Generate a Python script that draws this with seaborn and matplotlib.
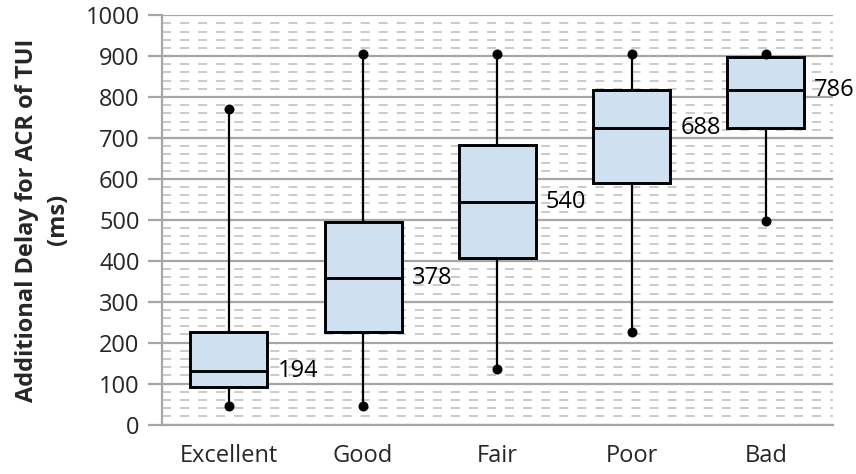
import matplotlib
matplotlib.use("Agg")
import matplotlib.pyplot as plt
from matplotlib.ticker import MultipleLocator
from matplotlib.transforms import offset_copy
import numpy as np
import pandas as pd
import seaborn as sns

# Delay distribution per rating category (ms)
categories = ["Excellent", "Good", "Fair", "Poor", "Bad"]
whisker_low = [45, 45, 135, 226, 498]
quartile_1 = [92, 226, 408, 590, 724]
medians = [131, 359, 543, 724, 817]
quartile_3 = [226, 494, 682, 817, 897]
whisker_high = [770, 905, 905, 905, 905]
mean_labels = [194, 378, 540, 688, 786]

sns.set_theme(style="white")
plt.rcParams["font.family"] = ["Open Sans", "DejaVu Sans"]

# Five-number summaries as long-form rows
rows = []
for i, c in enumerate(categories):
    for v in (whisker_low[i], quartile_1[i], medians[i], quartile_3[i], whisker_high[i]):
        rows.append({"category": c, "delay": v})
df = pd.DataFrame(rows)
ends = pd.DataFrame({
    "category": categories * 2,
    "delay": whisker_low + whisker_high,
})

fig = plt.figure(figsize=(8.56, 4.74), dpi=100)
ax = fig.add_axes([0.189, 0.1044, 0.784, 0.8636])

grid_major = "#a6a6a6"
grid_minor = "#c6c6c6"
ax.set_ylim(0, 1000)
ax.yaxis.set_major_locator(MultipleLocator(100))
ax.yaxis.set_minor_locator(MultipleLocator(20))
ax.grid(axis="y", which="major", color=grid_major, linewidth=1.6, zorder=0)
ax.grid(axis="y", which="minor", color=grid_minor, linewidth=1.3,
        linestyle=(0, (5.0, 5.0)), zorder=0)
ax.set_axisbelow(True)

box_w = 0.575
fill = "#cfe0f1"
sns.boxplot(data=df, x="category", y="delay", order=categories, ax=ax,
            whis=(0, 100), width=box_w, color=fill, saturation=1,
            linecolor="black", linewidth=2.0, fliersize=0,
            capprops={"visible": False},
            boxprops={"facecolor": fill, "edgecolor": "black",
                      "linewidth": 2.1, "zorder": 3},
            whiskerprops={"color": "black", "linewidth": 1.6, "zorder": 3},
            medianprops={"color": "black", "linewidth": 2.1, "zorder": 4})
sns.stripplot(data=ends, x="category", y="delay", order=categories, ax=ax,
              jitter=False, color="black", size=7.2, zorder=5)

# Value labels beside each box, at the median line
for i, (m, lab) in enumerate(zip(medians, mean_labels)):
    tr = offset_copy(ax.transData, fig=fig, x=10, y=0, units="dots")
    ax.text(i + box_w / 2, m, f"{lab}", transform=tr, ha="left",
            va="center", fontsize=17, color="black", zorder=6)

ax.set_xlim(-0.5, len(categories) - 0.5)
ax.set_xlabel("")
ax.set_ylabel("Additional Delay for ACR of TUI\n(ms)", fontsize=17,
              fontweight="bold", linespacing=1.4)
ax.yaxis.set_label_coords(-0.137, 0.5)

ax.tick_params(axis="y", which="major", length=10, width=1.6,
               color=grid_major, labelsize=17, pad=6, left=True)
ax.tick_params(axis="y", which="minor", length=0)
ax.tick_params(axis="x", length=0, labelsize=17, pad=14)

for side in ("top", "right"):
    ax.spines[side].set_visible(False)
ax.spines["left"].set_color(grid_major)
ax.spines["left"].set_linewidth(1.6)
ax.spines["bottom"].set_color(grid_major)
ax.spines["bottom"].set_linewidth(1.6)

fig.savefig("out.png", dpi=100)
